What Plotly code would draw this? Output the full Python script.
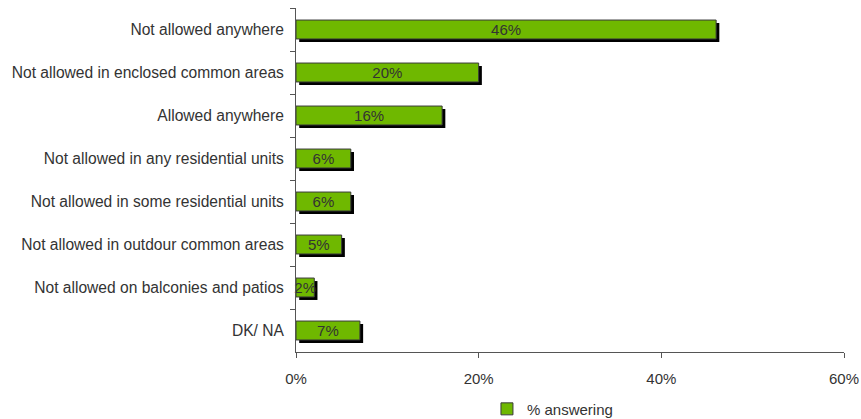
import plotly.graph_objects as go

categories = [
    "Not allowed anywhere",
    "Not allowed in enclosed common areas",
    "Allowed anywhere",
    "Not allowed in any residential units",
    "Not allowed in some residential units",
    "Not allowed in outdour common areas",
    "Not allowed on balconies and patios",
    "DK/ NA",
]
values = [46, 20, 16, 6, 6, 5, 2, 7]
labels = [f"{v}%" for v in values]
x_ticks = [0, 20, 40, 60]
x_tick_labels = [f"{t}%" for t in x_ticks]
series_name = "% answering"

BAR_W = 0.44
FONT = "Liberation Sans, Arial, sans-serif"
fig = go.Figure()
# shadow
fig.add_trace(go.Bar(
    y=categories, x=values, orientation="h", base=0.35,
    width=BAR_W, offset=-BAR_W / 2 + 0.07,
    marker=dict(color="#000000", line=dict(width=0)),
    showlegend=False, hoverinfo="skip",
))
fig.add_trace(go.Bar(
    y=categories, x=values, orientation="h", name=series_name,
    width=BAR_W, offset=-BAR_W / 2,
    marker=dict(color="#6fb800", line=dict(color="#3a3a3a", width=1)),
    text=labels, textposition="inside", insidetextanchor="middle", textangle=0,
    textfont=dict(color="#333333", size=15, family=FONT),
    constraintext="none", cliponaxis=False,
))

fig.update_layout(
    width=861, height=419,
    barmode="overlay",
    plot_bgcolor="white", paper_bgcolor="white",
    margin=dict(l=296, r=17, t=8, b=67, autoexpand=False),
    font=dict(family=FONT, size=15, color="#333333"),
    uniformtext=dict(mode=False),
    legend=dict(orientation="h", x=0.468, xanchor="center", y=-0.166, yanchor="middle",
                itemwidth=30, font=dict(size=15, color="#333333")),
    xaxis=dict(range=[0, 60], tickvals=x_ticks, ticktext=x_tick_labels,
               showgrid=False, zeroline=False, showline=True, linecolor="#555555",
               ticks="outside", ticklen=5, tickcolor="#555555", automargin=False,
               ticklabelstandoff=8, tickfont=dict(size=15)),
    yaxis=dict(autorange="reversed", showgrid=False, showline=True, linecolor="#555555",
               ticks="outside", tickson="boundaries", ticklen=5, tickcolor="#555555",
               tickfont=dict(size=15.6), ticklabelstandoff=8, automargin=False),
)

fig.write_html(
    "out.html",
    config={"displayModeBar": False},
    post_script="document.body.style.margin='0';document.body.style.overflow='hidden';",
)
